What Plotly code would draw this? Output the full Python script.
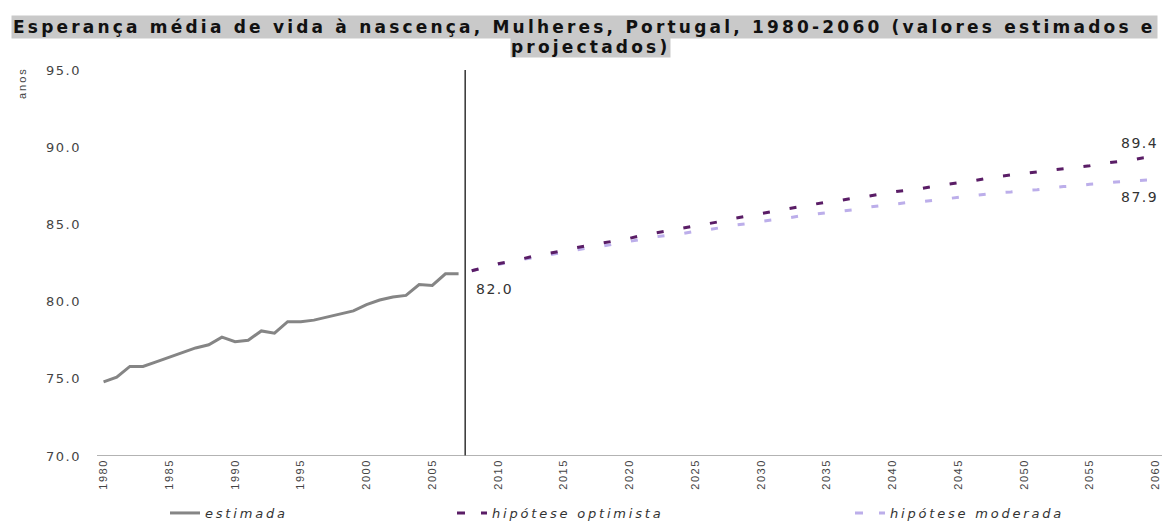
import plotly.graph_objects as go

# ---- data ----
years_est = list(range(1980, 2008))
est = [74.8, 75.1, 75.8, 75.8, 76.1, 76.4, 76.75, 77.0, 77.2, 77.7,
       77.4, 77.5, 78.1, 77.95, 78.7, 78.7, 78.8, 79.0, 79.2, 79.4,
       79.8, 80.1, 80.3, 80.4, 81.1, 81.05, 81.8, 81.8]

years_proj = list(range(2008, 2061))
optimista = [82.0, 82.2, 82.45, 82.6, 82.8, 83.0, 83.15, 83.3, 83.5, 83.65,
             83.8, 83.95, 84.1, 84.3, 84.45, 84.6, 84.75, 84.9, 85.05, 85.2,
             85.4, 85.55, 85.7, 85.85, 86.0, 86.15, 86.3, 86.45, 86.55, 86.7,
             86.8, 86.95, 87.1, 87.2, 87.3, 87.45, 87.6, 87.7, 87.8, 87.95,
             88.1, 88.2, 88.3, 88.4, 88.5, 88.6, 88.7, 88.8, 88.95, 89.05,
             89.15, 89.3, 89.4]
moderada = [82.0, 82.2, 82.4, 82.6, 82.75, 82.9, 83.05, 83.2, 83.35, 83.5,
            83.6, 83.75, 83.9, 84.05, 84.2, 84.3, 84.4, 84.55, 84.65, 84.8,
            84.95, 85.05, 85.2, 85.3, 85.4, 85.55, 85.65, 85.75, 85.85, 85.95,
            86.1, 86.2, 86.3, 86.4, 86.45, 86.55, 86.65, 86.75, 86.85, 86.95,
            87.05, 87.1, 87.2, 87.25, 87.35, 87.45, 87.5, 87.6, 87.65, 87.75,
            87.8, 87.85, 87.9]

x_ticks = list(range(1980, 2061, 5))
y_ticks = [70, 75, 80, 85, 90, 95]
y_tick_text = ["70.0", "75.0", "80.0", "85.0", "90.0", "95.0"]

title_line1 = "Esperança média de vida à nascença, Mulheres, Portugal, 1980-2060 (valores estimados e"
title_line2 = "projectados)"

FONT = "Liberation Sans, Arial, sans-serif"
WIDE = "DejaVu Sans, sans-serif"

C_EST = "#858585"
C_OPT = "#5a1d66"
C_MOD = "#bcaeea"


def spaced(s, px):
    return f'<span style="letter-spacing:{px}px">{s}</span>'


# plot area in pixels (for placing paper-referenced texts)
L, R, T, B = 97, 0, 70, 65
W, H = 1162, 521
PW, PH = W - L - R, H - T - B


def px_x(x):
    return (x - L) / PW


def px_y(y):
    return (H - B - y) / PH


fig = go.Figure()
fig.add_trace(go.Scatter(x=years_est, y=est, mode="lines", name=spaced("estimada", 2.8),
                         line=dict(color=C_EST, width=3), legend="legend"))
fig.add_trace(go.Scatter(x=years_proj, y=moderada, mode="lines", showlegend=False,
                         line=dict(color=C_MOD, width=3, dash="7px,20px")))
fig.add_trace(go.Scatter(x=years_proj, y=optimista, mode="lines", showlegend=False,
                         line=dict(color=C_OPT, width=3, dash="7px,20px")))
# legend entries (same series styling, legend-sized dash pattern)
fig.add_trace(go.Scatter(x=[None], y=[None], mode="lines",
                         name=spaced("hipótese optimista", 2.8),
                         line=dict(color=C_OPT, width=3, dash="8px,16px"), legend="legend2"))
fig.add_trace(go.Scatter(x=[None], y=[None], mode="lines",
                         name=spaced("hipótese moderada", 2.8),
                         line=dict(color=C_MOD, width=3, dash="8px,16px"), legend="legend3"))

# vertical separator
fig.add_shape(type="line", x0=2007.5, x1=2007.5, y0=0, y1=1, xref="x", yref="paper",
              line=dict(color="#000000", width=1.2))

# value labels
lab_font = dict(family=WIDE, size=14, color="#333333")
fig.add_annotation(x=2008, y=optimista[0], text=spaced("82.0", 1.5), showarrow=False,
                   xanchor="left", yanchor="top", xshift=2, yshift=-8, font=lab_font)
fig.add_annotation(x=2060, y=optimista[-1], text=spaced("89.4", 1.5), showarrow=False,
                   xanchor="right", yanchor="bottom", xshift=5, yshift=3, font=lab_font)
fig.add_annotation(x=2060, y=moderada[-1], text=spaced("87.9", 1.5), showarrow=False,
                   xanchor="right", yanchor="top", xshift=5, yshift=-7, font=lab_font)

# title with grey highlight per line
fig.add_annotation(x=px_x(584), y=px_y(27), xref="paper", yref="paper",
                   text="<b>" + spaced(title_line1, 3.2) + "</b>",
                   showarrow=False, xanchor="center", yanchor="middle",
                   bgcolor="#c9c9c9", borderpad=1,
                   font=dict(family=WIDE, size=17, color="#111111"))
fig.add_annotation(x=px_x(590), y=px_y(47), xref="paper", yref="paper",
                   text="<b>" + spaced(title_line2, 3.2) + "</b>",
                   showarrow=False, xanchor="center", yanchor="middle",
                   bgcolor="#c9c9c9", borderpad=0,
                   font=dict(family=WIDE, size=17, color="#111111"))

# y-axis unit label
fig.add_annotation(x=px_x(22), y=px_y(83), xref="paper", yref="paper",
                   text=spaced("anos", 2), xanchor="center", yanchor="middle",
                   textangle=-90, showarrow=False,
                   font=dict(family=FONT, size=11, color="#444444"))

legend_common = dict(orientation="h", xref="container", yref="container",
                     yanchor="middle", bgcolor="rgba(0,0,0,0)",
                     font=dict(family=WIDE, size=13, color="#333333", style="italic"),
                     itemwidth=30)

fig.update_layout(
    width=W, height=H,
    showlegend=True,
    margin=dict(l=L, r=R, t=T, b=B),
    plot_bgcolor="white", paper_bgcolor="white",
    xaxis=dict(range=[1979.5, 2060.5], tickmode="array", tickvals=x_ticks,
               ticktext=[spaced(str(v), 1.5) for v in x_ticks], tickangle=-90,
               tickfont=dict(family=FONT, size=11, color="#444444"),
               showgrid=False, zeroline=False, showline=False, ticks=""),
    yaxis=dict(range=[70, 95], tickmode="array", tickvals=y_ticks,
               ticktext=[spaced(t, 1.5) for t in y_tick_text],
               tickfont=dict(family=WIDE, size=13, color="#444444"),
               showgrid=False, zeroline=False, showline=False, ticks="", ticklen=0,
               ticklabelstandoff=15),
    legend=dict(x=165 / W, y=8 / H, xanchor="left", **legend_common),
    legend2=dict(x=452 / W, y=8 / H, xanchor="left", **legend_common),
    legend3=dict(x=850 / W, y=8 / H, xanchor="left", **legend_common),
)

# x axis baseline
fig.add_shape(type="line", x0=0, x1=1, y0=70, y1=70, xref="paper", yref="y",
              line=dict(color="#9a9a9a", width=1.5))

fig.write_html("out.html")
